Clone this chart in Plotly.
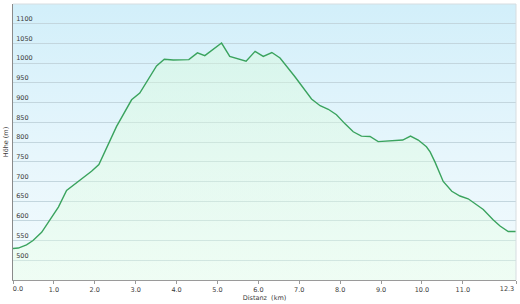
import base64
import plotly.graph_objects as go

# ---- data ----
distance_km = [0.0, 0.13, 0.33, 0.49, 0.70, 0.90, 1.11, 1.31, 1.52, 1.72, 1.92, 2.10,
               2.25, 2.53, 2.90, 3.10, 3.51, 3.70, 3.92, 4.30, 4.51, 4.69, 5.10, 5.30,
               5.70, 5.92, 6.12, 6.33, 6.53, 6.89, 7.30, 7.51, 7.71, 7.91, 8.12, 8.32,
               8.52, 8.73, 8.93, 9.14, 9.53, 9.72, 9.91, 10.11, 10.20, 10.32, 10.52,
               10.73, 10.93, 11.13, 11.50, 11.74, 11.91, 12.11, 12.30]
elevation_m = [530, 531, 539, 550, 571, 601, 635, 677, 694, 708, 726, 743,
               775, 839, 907, 924, 993, 1010, 1008, 1009, 1026, 1019, 1051, 1017,
               1005, 1030, 1017, 1027, 1013, 966, 909, 892, 883, 869, 846, 826,
               815, 814, 801, 803, 805, 815, 805, 788, 775, 749, 700,
               675, 663, 656, 629, 603, 587, 573, 573]

x_tickvals = [0, 1, 2, 3, 4, 5, 6, 7, 8, 9, 10, 11, 12.3]
x_ticktext = ["", "1.0", "2.0", "3.0", "4.0", "5.0", "6.0", "7.0",
              "8.0", "9.0", "10.0", "11.0", ""]
x_first_tick, x_first_text = [0], ["0.0"]
x_last_tick, x_last_text = [12.3], ["12.3"]
y_tickvals = [500, 550, 600, 650, 700, 750, 800, 850, 900, 950, 1000, 1050, 1100]
# 3-digit labels padded so all labels line up on the left like the reference
y_ticktext = ["500\u00a0\u00a0", "550\u00a0\u00a0", "600\u00a0\u00a0", "650\u00a0\u00a0",
              "700\u00a0\u00a0", "750\u00a0\u00a0", "800\u00a0\u00a0", "850\u00a0\u00a0",
              "900\u00a0\u00a0", "950\u00a0\u00a0", "1000", "1050", "1100"]
x_range = [0, 12.3]
y_range = [450, 1150]

FONT = "DejaVu Sans"
TXT = "#3a3a3a"
tick_font = dict(family=FONT, size=6.5, color=TXT)

# background gradient (light blue at top, paler at bottom)
svg = ('<svg xmlns="http://www.w3.org/2000/svg" width="100" height="100" '
       'preserveAspectRatio="none" viewBox="0 0 100 100">'
       '<defs><linearGradient id="g" x1="0" y1="0" x2="0" y2="1">'
       '<stop offset="0" stop-color="#d2effa"/>'
       '<stop offset="0.55" stop-color="#e7f6fc"/>'
       '<stop offset="1" stop-color="#f3fbfd"/>'
       '</linearGradient></defs>'
       '<rect width="100" height="100" fill="url(#g)"/></svg>')
bg_src = "data:image/svg+xml;base64," + base64.b64encode(svg.encode()).decode()

fig = go.Figure()
fig.add_trace(go.Scatter(
    x=distance_km, y=elevation_m, mode="lines",
    line=dict(color="#3aa35e", width=1.4),
    fill="tozeroy",
    fillgradient=dict(type="vertical", start=y_range[0], stop=1060,
                      colorscale=[[0, "rgba(232,255,230,0.40)"],
                                  [1, "rgba(215,252,215,0.40)"]]),
    hoverinfo="skip", showlegend=False,
))
# invisible companions so the two edge-label axes get drawn
for ax in ("x2", "x3"):
    fig.add_trace(go.Scatter(x=distance_km, y=elevation_m, xaxis=ax, yaxis="y",
                             mode="none", hoverinfo="skip", showlegend=False))

edge_axis = dict(overlaying="x", anchor="y", range=x_range, showgrid=False,
                 zeroline=False, showline=False, ticks="", tickfont=tick_font,
                 automargin=False, ticklabeloverflow="allow")

fig.update_layout(
    width=520, height=304,
    margin=dict(l=13, r=4, t=4, b=24),
    paper_bgcolor="white",
    plot_bgcolor="#e7f6fc",
    font=dict(family=FONT, size=6.5, color=TXT),
    images=[dict(source=bg_src, xref="paper", yref="paper", x=0, y=1,
                 sizex=1, sizey=1, sizing="stretch", layer="below",
                 xanchor="left", yanchor="top")],
    shapes=[
        dict(type="line", xref="paper", yref="paper", x0=0, x1=1, y0=1, y1=1,
             line=dict(color="#d6dde0", width=1), layer="above"),
        dict(type="line", xref="paper", yref="paper", x0=1, x1=1, y0=0, y1=1,
             line=dict(color="#d6dde0", width=1), layer="above"),
    ],
    xaxis=dict(
        range=x_range, tickvals=x_tickvals, ticktext=x_ticktext,
        showgrid=False, zeroline=False,
        showline=True, linecolor="#9a9a9a", linewidth=1,
        ticks="outside", ticklen=3, tickcolor="#9a9a9a",
        ticklabeloverflow="allow",
        tickfont=tick_font,
        title=dict(text="Distanz\u00a0 (km)", standoff=2,
                   font=dict(family=FONT, size=6.5, color=TXT)),
        automargin=False,
    ),
    xaxis2=dict(edge_axis, tickvals=x_first_tick, ticktext=x_first_text,
                ticklabelshift=5, ticklabelstandoff=3),
    xaxis3=dict(edge_axis, tickvals=x_last_tick, ticktext=x_last_text,
                ticklabelshift=-9, ticklabelstandoff=3),
    yaxis=dict(
        range=y_range, tickvals=y_tickvals, ticktext=y_ticktext,
        showgrid=True, gridcolor="#c3d6de", gridwidth=1,
        zeroline=False,
        showline=True, linecolor="#8a8a8a", linewidth=1,
        ticks="", ticklabelposition="outside",
        ticklabelstandoff=-22, ticklabelshift=-5,
        ticklabeloverflow="allow",
        tickfont=tick_font,
        title=dict(text="Höhe (m)", standoff=6,
                   font=dict(family=FONT, size=6.5, color=TXT)),
        automargin=False,
    ),
)

fig.write_html("out.html")
